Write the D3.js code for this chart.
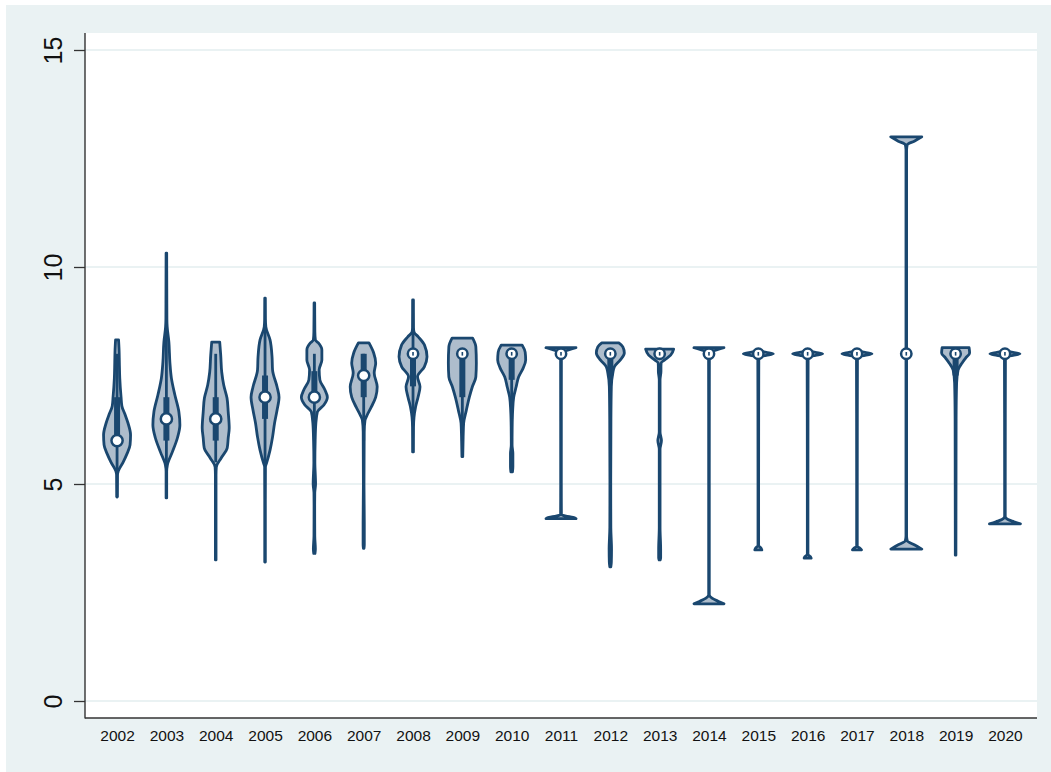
<!DOCTYPE html>
<html><head><meta charset="utf-8">
<script src="https://cdn.jsdelivr.net/npm/d3@7"></script>
<style>html,body{margin:0;padding:0;background:#fff;}svg{display:block;}</style>
</head><body>
<svg id="chart" width="1051" height="772"></svg>
<script>
// ---------- data ----------
const years = [2002,2003,2004,2005,2006,2007,2008,2009,2010,2011,2012,2013,2014,2015,2016,2017,2018,2019,2020];
const yTicks = [0,5,10,15];
const medians = [6.0,6.5,6.5,7.0,7.0,7.5,8,8,8,8,8,8,8,8,8,8,8,8,8];
const q1s     = [6.0,6.0,6.0,6.5,6.9,7.0,7.25,7.0,7.4,8,7.5,8,8,8,8,8,8,7.5,8];
const q3s     = [7.0,7.0,7.0,7.5,7.6,8.0,8,8,8,8,8,8,8,8,8,8,8,8,8];
const whiskLo = [4.7,4.7,5.5,5.4,6.0,6.0,6.5,6.0,6.5,8,7.3,8,8,8,8,8,8,7.3,8];
const whiskHi = [8.0,8.5,8.0,8.6,8.0,8.0,8.5,8.0,8.0,8,8,8,8,8,8,8,8,8,8];

// kernel density profiles: [value, relative density], from max to min
const density2002 = [[8.32,1.5],[8.1,2],[7.8,2.3],[7.44,2.7],[7.0,4],[6.8,4.8],[6.6,8],[6.4,11],[6.13,13.5],[5.9,13],[5.7,10],[5.5,6],[5.3,1.2],[5.2,0.4],[4.7,0.2]];
const density2003 = [[10.32,0.3],[9.5,0.4],[8.8,0.5],[8.62,0.8],[8.27,2.5],[7.8,3.5],[7.44,5],[7.05,8.5],[6.66,12.5],[6.36,13.5],[6.06,11],[5.74,6],[5.44,1],[5.28,0.3],[4.68,0.3]];
const density2004 = [[8.27,4],[7.97,5],[7.58,6],[7.28,8],[6.98,11.3],[6.66,12.5],[6.29,13.5],[6.06,12.5],[5.83,11.5],[5.6,5.5],[5.39,0.6],[5.2,0.3],[4.0,0.3],[3.25,0.3]];
const density2005 = [[9.28,0.3],[8.8,0.4],[8.62,0.8],[8.32,5],[7.93,7],[7.63,7.5],[7.24,12],[7.0,14],[6.7,12],[6.4,9.5],[6.08,7.5],[5.78,5],[5.48,1.5],[5.4,0.4],[4.5,0.3],[3.2,0.3]];
const density2006 = [[9.17,0.3],[8.5,0.5],[8.32,1],[8.25,4],[8.09,7.5],[7.86,7.5],[7.63,4.8],[7.4,5.5],[7.17,10.5],[7.0,13],[6.82,9.5],[6.66,3],[6.4,1.5],[6.0,0.8],[5.5,0.5],[5.0,1.2],[4.8,0.4],[4.5,0.3],[3.8,0.4],[3.5,1],[3.4,0.6]];
const density2007 = [[8.25,5.3],[8.02,10],[7.79,12],[7.56,10.5],[7.24,13.5],[7.0,12],[6.77,7.5],[6.59,3.5],[6.47,1.3],[6.2,0.5],[5.0,0.3],[4.1,0.6],[3.6,0.6],[3.52,0.3]];
const density2008 = [[9.24,0.4],[8.6,0.5],[8.5,1],[8.39,5.3],[8.2,11.5],[7.93,14],[7.7,11.3],[7.47,4.5],[7.24,7],[7.0,5],[6.77,2.5],[6.54,1],[6.3,0.5],[5.74,0.4]];
const density2009 = [[8.36,10.3],[8.16,13.5],[7.79,14],[7.47,13.5],[7.24,10],[7.0,7],[6.7,4],[6.4,1.3],[6.08,0.8],[5.63,0.4]];
const density2010 = [[8.2,10.5],[8.04,13.5],[7.86,14],[7.67,11.5],[7.47,7],[7.24,4.5],[7.0,2],[6.7,1],[6.3,0.5],[5.9,0.4],[5.7,1.2],[5.4,1.2],[5.28,0.8]];
const density2011 = [[8.14,15],[8.1,9],[8.05,3],[8.0,1],[7.95,0.4],[5.0,0.3],[4.3,0.4],[4.26,5],[4.23,12],[4.2,15]];
const density2012 = [[8.25,8.5],[8.16,12.5],[8.02,14],[7.86,10],[7.7,4],[7.56,2.5],[7.24,1],[6.5,0.6],[5.0,0.4],[4.0,0.5],[3.5,1.2],[3.2,1],[3.09,0.5]];
const density2013 = [[8.11,14],[7.97,11],[7.86,5],[7.79,1.5],[7.7,1.3],[7.6,1.3],[7.4,0.4],[6.2,0.4],[6.0,1.8],[5.8,0.4],[4.0,0.4],[3.5,1],[3.3,1],[3.25,0.5]];
const density2014 = [[8.14,15],[8.1,9],[8.05,3],[8.0,1],[7.95,0.4],[5.0,0.3],[2.45,0.3],[2.37,3],[2.3,9],[2.24,15]];
const density2015 = [[8.07,0.5],[8.035,8],[8.0,15],[7.965,8],[7.93,0.5],[5.0,0.3],[3.58,0.3],[3.53,2.5],[3.48,3.5]];
const density2016 = [[8.07,0.5],[8.035,8],[8.0,15],[7.965,8],[7.93,0.5],[5.0,0.3],[3.38,0.3],[3.33,2.5],[3.29,3.5]];
const density2017 = [[8.07,0.5],[8.035,8],[8.0,15],[7.965,8],[7.93,0.5],[5.0,0.3],[3.57,0.3],[3.52,3],[3.48,4.5]];
const density2018 = [[13.0,15.5],[12.9,8],[12.82,1],[12.7,0.3],[8.0,0.3],[3.8,0.3],[3.69,1],[3.6,8],[3.5,15.5]];
const density2019 = [[8.14,13.5],[8.02,14],[7.9,10],[7.79,6.5],[7.63,2.5],[7.33,1],[6.5,0.5],[5.0,0.4],[3.36,0.3]];
const density2020 = [[8.07,0.5],[8.035,8],[8.0,15],[7.965,8],[7.93,0.5],[5.0,0.3],[4.25,0.3],[4.18,3],[4.13,9],[4.08,15.5]];
const densities = [density2002,density2003,density2004,density2005,density2006,density2007,density2008,density2009,density2010,density2011,density2012,density2013,density2014,density2015,density2016,density2017,density2018,density2019,density2020];

// ---------- layout ----------
const W = 1051, H = 772;
const plot = {left:85, top:33, right:1037, bottom:718};
const navy = "#1a476f", fillC = "#aebdcc", bg = "#eaf2f3";

const svg = d3.select("#chart");
svg.append("rect").attr("x",0).attr("y",0).attr("width",W).attr("height",H).attr("fill","#fff");
svg.append("rect").attr("x",6).attr("y",5).attr("width",W-6).attr("height",H-5).attr("fill",bg);
svg.append("rect").attr("x",plot.left).attr("y",plot.top).attr("width",plot.right-plot.left).attr("height",plot.bottom-plot.top).attr("fill","#fff");

const x = d3.scalePoint().domain(years).range([plot.left, plot.right]).padding(0.65);
const y = d3.scaleLinear().domain([0,15]).range([701,50]);
const w = d3.scaleLinear().domain([0,15]).range([0,15]);

// gridlines
svg.append("g").selectAll("line").data(yTicks).join("line")
  .attr("x1",plot.left).attr("x2",plot.right)
  .attr("y1",d=>y(d)).attr("y2",d=>y(d))
  .attr("stroke",bg).attr("stroke-width",2.2);

// y axis
const yAxis = d3.axisLeft(y).tickValues(yTicks).tickSize(11).tickPadding(12).tickFormat(d3.format("d"));
const gy = svg.append("g").attr("transform",`translate(${plot.left},0)`).call(yAxis);
gy.select(".domain").remove();
gy.selectAll(".tick line").attr("stroke","#333").attr("stroke-width",1.3);
gy.selectAll(".tick text")
  .attr("font-family","'Liberation Sans', Arial, sans-serif").attr("font-size",25).attr("fill","#111")
  .attr("text-anchor","middle").attr("dy",null)
  .attr("x",null)
  .attr("transform","translate(-23,0) rotate(-90)");
svg.append("line").attr("x1",plot.left).attr("x2",plot.left).attr("y1",plot.top).attr("y2",plot.bottom+0.6)
  .attr("stroke","#333").attr("stroke-width",1.4);

// x axis
const xAxis = d3.axisBottom(x).tickSize(0).tickPadding(12);
const gx = svg.append("g").attr("transform",`translate(0,${plot.bottom})`).call(xAxis);
gx.select(".domain").remove();
gx.selectAll(".tick text").attr("font-family","'Liberation Sans', Arial, sans-serif").attr("font-size",15.5).attr("fill","#111");
svg.append("line").attr("x1",plot.left).attr("x2",plot.right).attr("y1",plot.bottom).attr("y2",plot.bottom)
  .attr("stroke","#333").attr("stroke-width",1.4);

// violins
const g = svg.append("g");
years.forEach((yr,i)=>{
  const cx = x(yr);
  const area = d3.area()
    .y(d=>y(d[0]))
    .x0(d=>cx - w(d[1]))
    .x1(d=>cx + w(d[1]))
    .curve(d3.curveMonotoneY);
  g.append("path").attr("d",area(densities[i]))
    .attr("fill",fillC).attr("stroke",navy).attr("stroke-width",2.8).attr("stroke-linejoin","round");
  // whisker
  if (whiskHi[i] > whiskLo[i]) {
    g.append("line").attr("x1",cx).attr("x2",cx).attr("y1",y(whiskHi[i])).attr("y2",y(whiskLo[i]))
      .attr("stroke",navy).attr("stroke-width",2.8);
  }
  // box
  if (q3s[i] > q1s[i]) {
    g.append("line").attr("x1",cx).attr("x2",cx).attr("y1",y(q3s[i])).attr("y2",y(q1s[i]))
      .attr("stroke",navy).attr("stroke-width",6);
  }
  // median marker
  g.append("circle").attr("cx",cx).attr("cy",y(medians[i])).attr("r",yr >= 2008 ? 5.2 : 5.6)
    .attr("fill","#fff").attr("stroke",navy).attr("stroke-width",2.5);
  if (q3s[i] === medians[i] && yr >= 2008) {
    g.append("rect").attr("x",cx-0.8).attr("y",y(medians[i])-1.8).attr("width",1.6).attr("height",3.6).attr("fill",navy);
  }
});
</script>
</body></html>
